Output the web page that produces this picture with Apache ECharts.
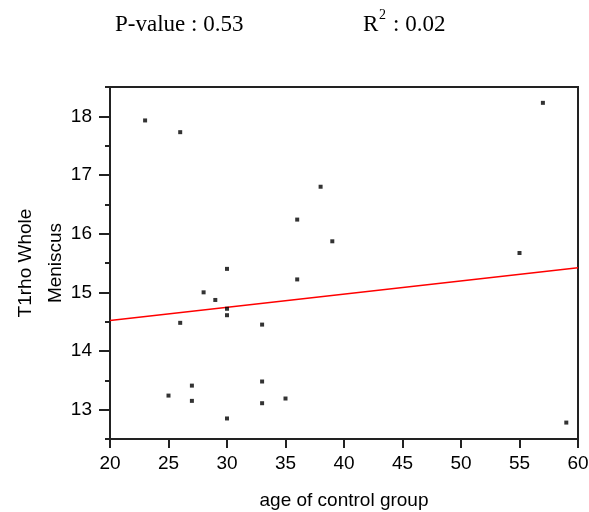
<!DOCTYPE html>
<html>
<head>
<meta charset="utf-8">
<script src="https://cdn.jsdelivr.net/npm/echarts@6/dist/echarts.min.js"></script>
<style>
  html, body { margin: 0; padding: 0; background: #fff; }
  #chart { width: 589px; height: 512px; }
</style>
</head>
<body>
<div id="chart"></div>
<script>
// ages and T1rho values
const ages = [23, 26, 26, 25, 27, 27, 28, 29, 30, 30, 30, 33, 33, 33, 35, 36, 30, 36, 38, 39, 57, 55, 59];
const t1rho = [17.93, 17.73, 14.48, 13.24, 13.41, 13.15, 15.0, 14.87, 14.72, 14.61, 12.85, 14.45, 13.48, 13.11, 13.19, 15.22, 15.40, 16.24, 16.80, 15.87, 18.23, 15.67, 12.78];

// fitted line end points
const fitX = [20, 60];
const fitY = [14.52, 15.42];

// y axis ticks
const yMajorTicks = [13, 14, 15, 16, 17, 18];
const yMinorTicks = [12.5, 13.5, 14.5, 15.5, 16.5, 17.5, 18.5];

const pValueText = 'P-value : 0.53';
const r2Value = ': 0.02';

const points = ages.map((a, i) => [a, t1rho[i]]);
const fitLine = fitX.map((x, i) => [x, fitY[i]]);

const chart = echarts.init(document.getElementById('chart'), null, { renderer: 'canvas' });

const axisColor = '#222';
const labelFont = 'Liberation Sans, Arial, sans-serif';
const titleFont = 'Liberation Serif, Times New Roman, serif';

chart.setOption({
    animation: false,
    backgroundColor: '#fff',
    grid: {
        left: 110, top: 87, right: 11, bottom: 73,
        outerBoundsMode: 'none', containLabel: false,
        show: true, borderColor: axisColor, borderWidth: 2
    },
    xAxis: {
        type: 'value', min: 20, max: 60, interval: 5,
        name: 'age of control group',
        nameLocation: 'middle', nameGap: 52,
        nameTextStyle: { fontFamily: labelFont, fontSize: 19, color: '#000' },
        axisLine: { lineStyle: { color: axisColor, width: 2 } },
        axisTick: { length: 9, lineStyle: { color: axisColor, width: 2 } },
        axisLabel: { margin: 15, fontFamily: labelFont, fontSize: 19, color: '#000' },
        splitLine: { show: false }
    },
    yAxis: [{
        type: 'value', min: 12.5, max: 18.5,
        name: 'T1rho Whole\nMeniscus',
        nameLocation: 'middle', nameGap: 39, nameRotate: 90, nameMoveOverlap: false,
        nameTextStyle: { fontFamily: labelFont, fontSize: 19, color: '#000', lineHeight: 30 },
        axisLine: { lineStyle: { color: axisColor, width: 2 } },
        axisTick: { length: 11, customValues: yMajorTicks, lineStyle: { color: axisColor, width: 2 } },
        axisLabel: { margin: 18, customValues: yMajorTicks, fontFamily: labelFont, fontSize: 19, color: '#000' },
        splitLine: { show: false }
    }, {
        type: 'value', min: 12.5, max: 18.5, position: 'left',
        axisLine: { show: false },
        axisTick: { show: true, length: 5, customValues: yMinorTicks, lineStyle: { color: axisColor, width: 2 } },
        axisLabel: { show: false },
        splitLine: { show: false }
    }],
    series: [{
        type: 'scatter',
        data: points,
        symbol: 'rect',
        symbolSize: 4,
        itemStyle: { color: '#000' },
        z: 3
    }, {
        type: 'line',
        data: fitLine,
        showSymbol: false,
        lineStyle: { color: '#ff0000', width: 1.5 },
        z: 2
    }],
    graphic: [{
        type: 'text', left: 115, top: 13,
        style: { text: pValueText, font: '23px ' + titleFont, fill: '#000' }
    }, {
        type: 'text', left: 363, top: 13,
        style: { text: 'R', font: '23px ' + titleFont, fill: '#000' }
    }, {
        type: 'text', left: 379, top: 8,
        style: { text: '2', font: '14px ' + titleFont, fill: '#000' }
    }, {
        type: 'text', left: 393, top: 13,
        style: { text: r2Value, font: '23px ' + titleFont, fill: '#000' }
    }]
});
</script>
</body>
</html>
